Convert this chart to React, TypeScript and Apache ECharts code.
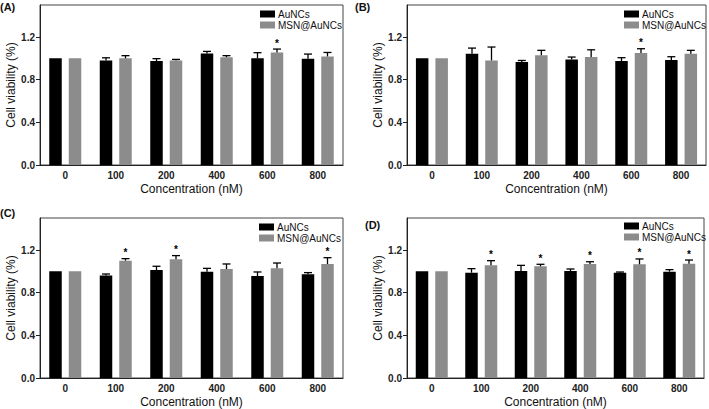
import React, { useEffect, useRef } from "react";
import * as echarts from "echarts";

// ---------- data ----------
const categories = ["0", "100", "200", "400", "600", "800"];
const seriesNames = ["AuNCs", "MSN@AuNCs"];
const panelLabels = ["(A)", "(B)", "(C)", "(D)"];
const yTicks = [0, 0.4, 0.8, 1.2];

const A_AuNCs = [1.0, 0.98, 0.975, 1.045, 1.0, 0.995];
const A_AuNCs_err = [0, 0.025, 0.022, 0.02, 0.053, 0.045];
const A_MSN = [1.0, 1.0, 0.98, 1.01, 1.055, 1.018];
const A_MSN_err = [0, 0.025, 0.01, 0.015, 0.032, 0.037];
const A_stars = ["", "", "", "", "*", ""];

const B_AuNCs = [1.0, 1.043, 0.965, 0.99, 0.974, 0.984];
const B_AuNCs_err = [0, 0.053, 0.015, 0.022, 0.032, 0.031];
const B_MSN = [1.0, 0.98, 1.03, 1.012, 1.05, 1.043];
const B_MSN_err = [0, 0.126, 0.045, 0.068, 0.04, 0.032];
const B_stars = ["", "", "", "", "*", ""];

const C_AuNCs = [1.0, 0.96, 1.0125, 0.997, 0.956, 0.972];
const C_AuNCs_err = [0, 0.015, 0.035, 0.031, 0.038, 0.016];
const C_MSN = [1.0, 1.1, 1.1125, 1.022, 1.028, 1.069];
const C_MSN_err = [0, 0.019, 0.035, 0.047, 0.05, 0.059];
const C_stars = ["", "*", "*", "", "", "*"];

const D_AuNCs = [1.0, 0.9875, 1.003, 1.003, 0.9875, 0.997];
const D_AuNCs_err = [0, 0.0375, 0.053, 0.019, 0.006, 0.019];
const D_MSN = [1.0, 1.056, 1.047, 1.069, 1.066, 1.072];
const D_MSN_err = [0, 0.044, 0.019, 0.021, 0.05, 0.034];
const D_stars = ["", "*", "*", "*", "*", "*"];

// ---------- layout ----------
const FONT = '"Liberation Sans", Arial, Helvetica, sans-serif';
const BAR_W = 12.5;
const BAR_GAP_PX = 7;
const COLORS = ["#000000", "#8c8c8c"];

const panels = [
  { au: A_AuNCs, auErr: A_AuNCs_err, msn: A_MSN, msnErr: A_MSN_err, stars: A_stars,
    grid: { left: 40, top: 5, width: 303, height: 160 }, legend: { left: 260, top: 9 }, title: { left: 0, top: 1 } },
  { au: B_AuNCs, auErr: B_AuNCs_err, msn: B_MSN, msnErr: B_MSN_err, stars: B_stars,
    grid: { left: 407, top: 5, width: 299, height: 160 }, legend: { left: 624, top: 9 }, title: { left: 355, top: 1 } },
  { au: C_AuNCs, auErr: C_AuNCs_err, msn: C_MSN, msnErr: C_MSN_err, stars: C_stars,
    grid: { left: 40, top: 218, width: 303, height: 160 }, legend: { left: 259, top: 222 }, title: { left: 0, top: 207 } },
  { au: D_AuNCs, auErr: D_AuNCs_err, msn: D_MSN, msnErr: D_MSN_err, stars: D_stars,
    grid: { left: 407, top: 218, width: 297, height: 160 }, legend: { left: 624, top: 221 }, title: { left: 365, top: 219 } },
];

function buildOption() {
  const grid: any[] = [];
  const xAxis: any[] = [];
  const yAxis: any[] = [];
  const series: any[] = [];
  const legend: any[] = [];
  const title: any[] = [];

  panels.forEach((p, k) => {
    grid.push({ ...p.grid, show: true, borderColor: "#444", borderWidth: 1, backgroundColor: "transparent" });
    title.push({
      text: panelLabels[k], left: p.title.left, top: p.title.top, padding: 0,
      textStyle: { fontFamily: FONT, fontSize: 11, fontWeight: "bold", color: "#111" },
    });
    legend.push({
      orient: "vertical", left: p.legend.left, top: p.legend.top, padding: 0,
      itemWidth: 15, itemHeight: 7, itemGap: 1, icon: "rect", data: seriesNames,
      textStyle: { fontFamily: FONT, fontSize: 10, color: "#111", padding: [0, 0, 0, -2] },
    });
    xAxis.push({
      type: "category", gridIndex: k, data: categories,
      axisLine: { lineStyle: { color: "#222", width: 1 } },
      axisTick: { alignWithLabel: true, length: 4, lineStyle: { color: "#222" } },
      axisLabel: { fontFamily: FONT, fontSize: 10, fontWeight: "bold", color: "#222", margin: 5 },
      name: "Concentration (nM)", nameLocation: "middle", nameGap: 18,
      nameTextStyle: { fontFamily: FONT, fontSize: 12, color: "#111" },
    });
    yAxis.push({
      type: "value", gridIndex: k, min: 0, max: 1.5, interval: 0.4,
      splitLine: { show: false },
      axisLine: { show: true, lineStyle: { color: "#222", width: 1 } },
      axisTick: { show: true, length: 4, lineStyle: { color: "#222" } },
      axisLabel: {
        fontFamily: FONT, fontSize: 10, fontWeight: "bold", color: "#222", margin: 5, showMaxLabel: false,
        formatter: (v: number) => (yTicks.some((t) => Math.abs(t - v) < 1e-6) ? v.toFixed(1) : ""),
      },
      name: "Cell viability (%)", nameLocation: "middle", nameGap: 21,
      nameTextStyle: { fontFamily: FONT, fontSize: 12, color: "#111" },
    });
    const vals = [p.au, p.msn];
    vals.forEach((v, s) => {
      series.push({
        type: "bar", name: seriesNames[s], xAxisIndex: k, yAxisIndex: k, data: v,
        barWidth: BAR_W, barGap: `${(BAR_GAP_PX / BAR_W) * 100}%`,
        itemStyle: { color: COLORS[s] },
      });
    });
    const errData: any[] = [];
    categories.forEach((_, i) => {
      errData.push([i, p.au[i], p.auErr[i], -1, 0]);
      errData.push([i, p.msn[i], p.msnErr[i], 1, p.stars[i] ? 1 : 0]);
    });
    series.push({
      type: "custom", name: "err" + k, xAxisIndex: k, yAxisIndex: k, data: errData, z: 5, clip: false,
      renderItem: (params: any, api: any) => {
        const i = api.value(0);
        const val = api.value(1);
        const err = api.value(2);
        const side = api.value(3);
        const star = api.value(4);
        const off = (side * (BAR_W + BAR_GAP_PX)) / 2;
        const base = api.coord([i, val]);
        const top = api.coord([i, val + err]);
        const x = base[0] + off;
        const children: any[] = [];
        if (err > 0) {
          children.push({ type: "line", shape: { x1: x, y1: base[1], x2: x, y2: top[1] }, style: { stroke: "#000", lineWidth: 1.3 } });
          children.push({ type: "line", shape: { x1: x - 4, y1: top[1], x2: x + 4, y2: top[1] }, style: { stroke: "#000", lineWidth: 1.3 } });
        }
        if (star) {
          children.push({
            type: "text",
            style: { text: "*", x, y: top[1] - 1, align: "center", verticalAlign: "bottom",
              fontFamily: FONT, fontSize: 10, fontWeight: "bold", fill: "#000" },
          });
        }
        return { type: "group", children };
      },
    });
  });

  return { animation: false, backgroundColor: "#fff", textStyle: { fontFamily: FONT }, title, legend, grid, xAxis, yAxis, series };
}

export default function App() {
  const ref = useRef<HTMLDivElement>(null);
  useEffect(() => {
    if (!ref.current) return;
    const chart = echarts.init(ref.current, undefined, { renderer: "svg" });
    chart.setOption(buildOption() as any);
    return () => chart.dispose();
  }, []);
  return <div ref={ref} style={{ position: "fixed", left: 0, top: 0, width: 709, height: 409, background: "#fff" }} />;
}
